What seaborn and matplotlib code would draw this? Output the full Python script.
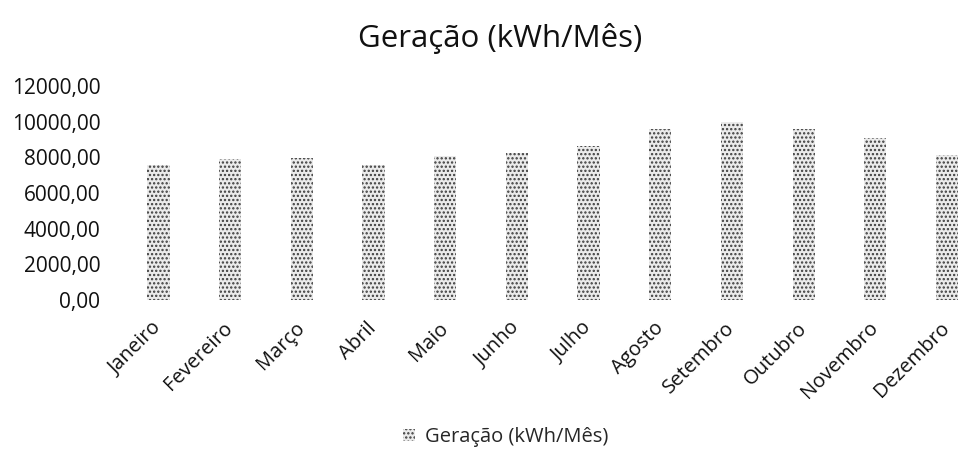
import matplotlib
matplotlib.use("Agg")
import matplotlib.pyplot as plt
from matplotlib.patches import Patch
from matplotlib.ticker import FixedLocator, FuncFormatter
import seaborn as sns
import pandas as pd

# Monthly generation (kWh)
meses = ["Janeiro", "Fevereiro", "Março", "Abril", "Maio", "Junho",
         "Julho", "Agosto", "Setembro", "Outubro", "Novembro", "Dezembro"]
geracao = [7560, 7880, 7950, 7580, 8080, 8230,
           8630, 9600, 9970, 9600, 9060, 8120]
y_ticks = [0, 2000, 4000, 6000, 8000, 10000, 12000]
titulo = "Geração (kWh/Mês)"

df = pd.DataFrame({"Mês": meses, "Geração": geracao})

sns.set_theme(style="white")
plt.rcParams["font.family"] = ["Open Sans", "DejaVu Sans"]
plt.rcParams["hatch.linewidth"] = 1.1

fig = plt.figure(figsize=(9.58, 4.5), dpi=100)
ax = fig.add_axes([0.128, 0.333, 0.898, 0.476])

bar_face = "#ebebeb"
bar_hatch = "#3c3c3c"
bar_pattern = "...."
sns.barplot(data=df, x="Mês", y="Geração", color=bar_face, width=0.31,
            saturation=1, ax=ax)
for patch in ax.patches:
    patch.set_hatch(bar_pattern)
    patch.set_edgecolor(bar_hatch)
    patch.set_linewidth(0)

ax.set_ylim(0, 12000)
ax.yaxis.set_major_locator(FixedLocator(y_ticks))
ax.yaxis.set_major_formatter(
    FuncFormatter(lambda v, _: f"{v:.2f}".replace(".", ",")))
ax.tick_params(axis="y", labelsize=15, pad=16, length=0, colors="#111111")
ax.tick_params(axis="x", labelsize=14.5, pad=18, length=0, colors="#111111")
for lbl in ax.get_xticklabels():
    lbl.set_rotation(45)
    lbl.set_ha("right")
    lbl.set_va("center")
    lbl.set_rotation_mode("anchor")

ax.set_xlabel("")
ax.set_ylabel("")
sns.despine(ax=ax, left=True, bottom=True)

fig.text(500 / 958, 1 - 39 / 450, titulo, ha="center", va="center",
         fontsize=22.5, color="#111111")

handle = Patch(facecolor=bar_face, edgecolor=bar_hatch, hatch=bar_pattern,
               linewidth=0)
fig.legend([handle], [titulo], loc="center", frameon=False,
           bbox_to_anchor=(506 / 958, 1 - 437 / 450), fontsize=14.5,
           handlelength=0.6, handleheight=0.6, handletextpad=0.5)

fig.savefig("out.png", dpi=100)
